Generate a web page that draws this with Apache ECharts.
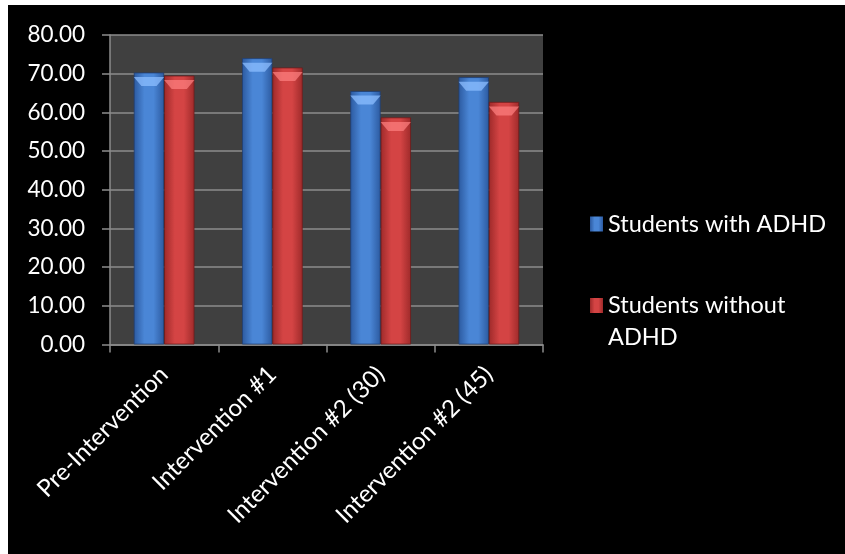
<!DOCTYPE html>
<html>
<head>
<meta charset="utf-8">
<script src="https://cdn.jsdelivr.net/npm/echarts@6/dist/echarts.min.js"></script>
<style>
html,body{margin:0;padding:0;background:#ffffff;width:845px;height:554px;overflow:hidden;}
#chart{position:absolute;left:8px;top:5px;width:837px;height:549px;background:#000;}
</style>
</head>
<body>
<div id="chart"></div>
<script>
const categories = ['Pre-Intervention', 'Intervention #1', 'Intervention #2 (30)', 'Intervention #2 (45)'];
const withADHD = [70.3, 74.0, 65.5, 69.1];
const withoutADHD = [69.5, 71.6, 58.7, 62.7];
const seriesNames = ['Students with ADHD', 'Students without ADHD'];

function grad(edge, mid) {
  return new echarts.graphic.LinearGradient(0, 0, 1, 0, [
    {offset: 0, color: edge},
    {offset: 0.35, color: mid},
    {offset: 0.65, color: mid},
    {offset: 1, color: edge}
  ]);
}
function bevel(name, data, color) {
  return {
    name: name, type: 'pictorialBar', data: data,
    barGap: '0%', barCategoryGap: '44%',
    symbol: 'path://M0,0H40L30,10H10Z',
    symbolPosition: 'end',
    symbolSize: ['100%', 9],
    symbolOffset: [0, '50%'],
    symbolKeepAspect: false,
    itemStyle: {color: color},
    z: 3, silent: true
  };
}
const FONT = 'Lato';
const legendText = {color: '#fff', fontSize: 23.5, fontFamily: FONT, lineHeight: 32};
const chart = echarts.init(document.getElementById('chart'));
chart.setOption({
  backgroundColor: '#000',
  animation: false,
  textStyle: {fontFamily: FONT},
  grid: {left: 102, top: 30, width: 433, height: 309.5, backgroundColor: '#404040', show: true, borderWidth: 0},
  legend: [
    {
      left: 577, top: 198,
      itemWidth: 13, itemHeight: 15,
      icon: 'rect',
      itemStyle: {borderWidth: 0},
      textStyle: legendText,
      data: [seriesNames[0]]
    },
    {
      left: 577, top: 279,
      itemWidth: 13, itemHeight: 46,
      icon: 'path://M0,0H13V15H0Z M0,45.99H0.01V46H0Z',
      itemStyle: {borderWidth: 0},
      textStyle: legendText,
      formatter: function () { return 'Students without\nADHD'; },
      data: [seriesNames[1]]
    }
  ],
  xAxis: {
    type: 'category',
    data: categories,
    axisLine: {lineStyle: {color: '#8c8c8c', width: 1.5}},
    axisTick: {show: true, length: 8, lineStyle: {color: '#8c8c8c', width: 1.5}},
    axisLabel: {color: '#fff', fontSize: 24, rotate: 45, margin: 26, fontFamily: FONT, interval: 0}
  },
  yAxis: {
    type: 'value',
    min: 0, max: 80, interval: 10,
    axisLine: {show: true, lineStyle: {color: '#8c8c8c', width: 1.5}},
    axisTick: {show: true, length: 8, lineStyle: {color: '#8c8c8c', width: 1.5}},
    splitLine: {lineStyle: {color: '#8c8c8c', width: 1.5}},
    axisLabel: {color: '#fff', fontSize: 22.5, margin: 25, fontFamily: FONT, formatter: v => v.toFixed(2)}
  },
  series: [
    {
      name: seriesNames[0], type: 'bar', data: withADHD,
      barGap: '0%', barCategoryGap: '44%',
      itemStyle: {color: grad('#2c5aa0', '#4a86d6'), borderColor: '#1f3f73', borderWidth: 0.8}
    },
    {
      name: seriesNames[1], type: 'bar', data: withoutADHD,
      itemStyle: {color: grad('#9e2a2a', '#d44444'), borderColor: '#6e1c1c', borderWidth: 0.8}
    },
    bevel('bevelA', withADHD, 'rgba(140,190,255,0.75)'),
    bevel('bevelB', withoutADHD, 'rgba(255,130,130,0.7)')
  ]
});
</script>
</body>
</html>
